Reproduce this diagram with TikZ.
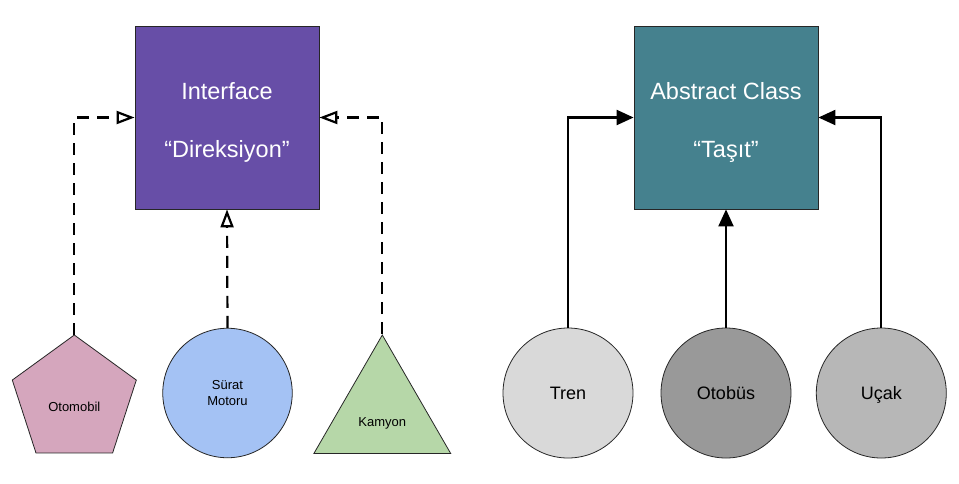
\documentclass[tikz,border=0pt]{standalone}
\usepackage{fontspec}
\setmainfont{Liberation Sans}
\usepackage{xcolor}
\usetikzlibrary{shapes.geometric,arrows.meta}
\definecolor{ifacepurple}{HTML}{674EA7}
\definecolor{absteal}{HTML}{45818E}
\definecolor{carpink}{HTML}{D5A6BD}
\definecolor{motorblue}{HTML}{A4C2F4}
\definecolor{truckgreen}{HTML}{B6D7A8}
\definecolor{trengray}{HTML}{D9D9D9}
\definecolor{busgray}{HTML}{999999}
\definecolor{planegray}{HTML}{B7B7B7}
\tikzset{
  classbox/.style={draw=black!85, line width=0.8pt, minimum width=184pt, minimum height=183pt,
    inner sep=0pt},
  boxtext/.style={text=white, align=center, font=\fontsize{23.5}{58}\selectfont, yshift=-4.5pt},
  small shape/.style={draw=black!85, line width=0.8pt, inner sep=0pt,
    font=\fontsize{13}{16}\selectfont, align=center},
  big circle/.style={circle, draw=black!85, line width=0.8pt, minimum size=130pt,
    inner sep=0pt, text height=13pt, text depth=0pt, font=\fontsize{18}{22}\selectfont},
  implements/.style={line width=2.2pt, dash pattern=on 12pt off 8pt,
    -{Triangle[open, length=18pt, width=13pt, line width=2.2pt, fill=white]}},
  extends/.style={line width=2.2pt, -{Triangle[length=17pt, width=15pt]}},
}

\begin{document}
\begin{tikzpicture}[x=1pt, y=-1pt]
  \useasboundingbox (0,0) rectangle (959,483);
  % interface side
  \node[classbox, fill=ifacepurple, label={[boxtext]center:Interface\\“Direksiyon”}] (iface) at (227,117.5) {};
  \node[small shape, regular polygon, regular polygon sides=5, minimum size=130.4pt, fill=carpink,
    label={[font=\fontsize{13}{16}\selectfont, yshift=-7pt]center:Otomobil}] (otomobil) at (74.3,400.2) {};
  \node[small shape, circle, minimum size=129.5pt, fill=motorblue] (motor) at (227.5,393) {Sürat\\Motoru};
  \node[small shape, regular polygon, regular polygon sides=3, minimum size=158pt, fill=truckgreen,
    label={[font=\fontsize{13}{16}\selectfont, yshift=-9pt]center:Kamyon}] (kamyon) at (382.3,414) {};
  \draw[implements] (otomobil.north) |- (iface.west);
  \draw[implements] (motor.north) -- (iface.south);
  \draw[implements] (kamyon.north) |- (iface.east);
  % abstract class side
  \node[classbox, fill=absteal, label={[boxtext]center:Abstract Class\\“Taşıt”}] (tasit) at (726,117.5) {};
  \node[big circle, fill=trengray] (tren) at (568,393) {Tren};
  \node[big circle, fill=busgray] (otobus) at (726,393) {Otobüs};
  \node[big circle, fill=planegray] (ucak) at (881.3,393) {Uçak};
  \draw[extends] (tren.north) |- (tasit.west);
  \draw[extends] (otobus.north) -- (tasit.south);
  \draw[extends] (ucak.north) |- (tasit.east);
\end{tikzpicture}
\end{document}
